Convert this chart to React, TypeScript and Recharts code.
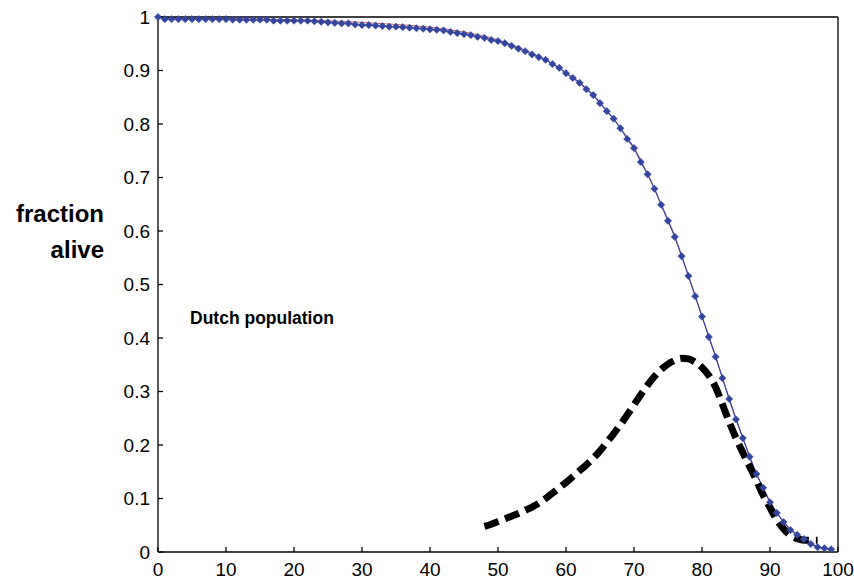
import React from "react";
import { LineChart, Line, XAxis, YAxis } from "recharts";

const ages: number[] = Array.from({ length: 100 }, (_, i) => i);

const survival: number[] = [
  1.0, 0.996, 0.996, 0.996, 0.996, 0.996, 0.996, 0.996, 0.996, 0.996,
  0.996, 0.995, 0.995, 0.995, 0.995, 0.995, 0.995, 0.993, 0.993, 0.993,
  0.993, 0.993, 0.993, 0.992, 0.991, 0.990, 0.989, 0.988, 0.988, 0.986,
  0.985, 0.985, 0.984, 0.983, 0.982, 0.982, 0.981, 0.980, 0.979, 0.978,
  0.977, 0.976, 0.975, 0.972, 0.970, 0.968, 0.966, 0.963, 0.961, 0.957,
  0.955, 0.951, 0.946, 0.941, 0.936, 0.930, 0.925, 0.920, 0.912, 0.905,
  0.895, 0.886, 0.877, 0.865, 0.854, 0.839, 0.824, 0.810, 0.792, 0.772,
  0.755, 0.729, 0.706, 0.679, 0.649, 0.619, 0.589, 0.553, 0.516, 0.478,
  0.440, 0.402, 0.365, 0.325, 0.286, 0.248, 0.213, 0.178, 0.146, 0.120,
  0.093, 0.073, 0.056, 0.041, 0.032, 0.024, 0.015, 0.009, 0.007, 0.005,
];

const fitAges: number[] = [
  0, 5, 10, 15, 20, 25, 30, 35, 40, 45, 48, 50, 52, 54, 56, 58, 60, 62, 64, 66, 68, 70,
  72, 74, 76, 78, 80, 82, 84, 86, 88, 90, 92, 94, 96, 98, 99,
];
const fitValues: number[] = [
  1.0, 0.998, 0.997, 0.996, 0.995, 0.993, 0.990, 0.986, 0.981, 0.972, 0.964, 0.957, 0.948, 0.938, 0.926, 0.913, 0.896, 0.878, 0.855, 0.825, 0.793, 0.756,
  0.707, 0.650, 0.590, 0.517, 0.441, 0.366, 0.287, 0.214, 0.147, 0.094, 0.057, 0.033, 0.016, 0.007, 0.005,
];

const densityAges: number[] = Array.from({ length: 50 }, (_, i) => 48 + i);
const densityValues: number[] = [
  0.048, 0.052, 0.057, 0.062, 0.067, 0.072, 0.078, 0.084, 0.091, 0.100,
  0.110, 0.120, 0.130, 0.141, 0.152, 0.163, 0.175, 0.189, 0.205, 0.221,
  0.238, 0.256, 0.275, 0.294, 0.312, 0.328, 0.341, 0.351, 0.358, 0.362,
  0.361, 0.355, 0.345, 0.330, 0.308, 0.276, 0.243, 0.213, 0.186, 0.160,
  0.134, 0.106, 0.083, 0.060, 0.043, 0.031, 0.025, 0.022, 0.022, 0.022,
];

const xTicks: number[] = [0, 10, 20, 30, 40, 50, 60, 70, 80, 90, 100];
const yTicks: number[] = [0, 0.1, 0.2, 0.3, 0.4, 0.5, 0.6, 0.7, 0.8, 0.9, 1];
const yTickLabels: string[] = ["0", "0.1", "0.2", "0.3", "0.4", "0.5", "0.6", "0.7", "0.8", "0.9", "1"];

const data = ages.map((a, i) => {
  const row: any = { age: a, survival: survival[i] };
  const fi = fitAges.indexOf(a);
  if (fi >= 0) row.fit = fitValues[fi];
  const di = densityAges.indexOf(a);
  if (di >= 0) row.density = densityValues[di];
  return row;
});

const FONT = "'Liberation Sans', Arial, sans-serif";

const Diamond = (props: any) => {
  const { cx, cy, index } = props;
  if (cx == null || cy == null) return <g key={`d-${index}`} />;
  const r = 3.6;
  return (
    <path
      key={`d-${index}`}
      d={`M${cx},${cy - r} L${cx + r},${cy} L${cx},${cy + r} L${cx - r},${cy} Z`}
      fill="#3345a0"
      stroke="#3345a0"
      strokeWidth={0.6}
    />
  );
};

const YTick = (props: any) => {
  const { x, y, payload } = props;
  const idx = yTicks.indexOf(payload.value);
  const label = idx >= 0 ? yTickLabels[idx] : String(payload.value);
  return (
    <text
      x={x}
      y={y}
      textAnchor="end"
      dominantBaseline="central"
      fontFamily={FONT}
      fontSize={19}
      fill="#000"
    >
      {label}
    </text>
  );
};

const XTick = (props: any) => {
  const { x, y, payload } = props;
  return (
    <text x={x} y={y} dy="0.72em" textAnchor="middle" fontFamily={FONT} fontSize={19} fill="#000">
      {payload.value}
    </text>
  );
};

export default function App() {
  const W = 854;
  const H = 581;
  return (
    <div style={{ position: "absolute", left: 0, top: 0, width: W, height: H, background: "#fff" }}>
      <LineChart
        width={W}
        height={H}
        data={data}
        margin={{ top: 0, right: 0, bottom: 0, left: 98 }}
      >
        <XAxis
          xAxisId="bottom"
          dataKey="age"
          type="number"
          domain={[0, 100]}
          ticks={xTicks}
          orientation="bottom"
          height={29}
          tickSize={-5}
          tickMargin={15}
          axisLine={{ stroke: "#000", strokeWidth: 1.3 }}
          tickLine={{ stroke: "#000", strokeWidth: 1.3 }}
          tick={<XTick />}
          interval={0}
        />
        <XAxis
          xAxisId="top"
          dataKey="age"
          type="number"
          domain={[0, 100]}
          ticks={xTicks}
          orientation="top"
          height={17}
          tickSize={-5}
          axisLine={{ stroke: "#000", strokeWidth: 1.3 }}
          tickLine={{ stroke: "#000", strokeWidth: 1.3 }}
          tick={false}
          interval={0}
        />
        <YAxis
          yAxisId="left"
          type="number"
          domain={[0, 1]}
          ticks={yTicks}
          orientation="left"
          width={60}
          tickSize={-5}
          tickMargin={13}
          axisLine={{ stroke: "#000", strokeWidth: 1.3 }}
          tickLine={{ stroke: "#000", strokeWidth: 1.3 }}
          tick={<YTick />}
          interval={0}
        />
        <YAxis
          yAxisId="right"
          type="number"
          domain={[0, 1]}
          ticks={yTicks}
          orientation="right"
          width={16}
          tickSize={-5}
          axisLine={{ stroke: "#000", strokeWidth: 1.3 }}
          tickLine={{ stroke: "#000", strokeWidth: 1.3 }}
          tick={false}
          interval={0}
        />
        <Line
          xAxisId="bottom"
          yAxisId="left"
          type="monotone"
          dataKey="fit"
          stroke="#c0606e"
          strokeWidth={1}
          dot={false}
          connectNulls
          isAnimationActive={false}
        />
        <Line
          xAxisId="bottom"
          yAxisId="left"
          type="linear"
          dataKey="survival"
          stroke="#3345a0"
          strokeWidth={1.2}
          dot={<Diamond />}
          isAnimationActive={false}
        />
        <Line
          xAxisId="bottom"
          yAxisId="left"
          type="monotone"
          dataKey="density"
          stroke="#000"
          strokeWidth={7}
          strokeDasharray="15 7"
          strokeLinecap="butt"
          dot={false}
          isAnimationActive={false}
        />
      </LineChart>
      <svg
        width={W}
        height={H}
        style={{ position: "absolute", left: 0, top: 0, pointerEvents: "none" }}
      >
        <text x={104} y={222} textAnchor="end" fontFamily={FONT} fontWeight="bold" fontSize={24} fill="#000">
          fraction
        </text>
        <text x={104} y={258} textAnchor="end" fontFamily={FONT} fontWeight="bold" fontSize={24} fill="#000">
          alive
        </text>
        <text x={190} y={324} fontFamily={FONT} fontWeight="bold" fontSize={17.5} fill="#000">
          Dutch population
        </text>
      </svg>
    </div>
  );
}
